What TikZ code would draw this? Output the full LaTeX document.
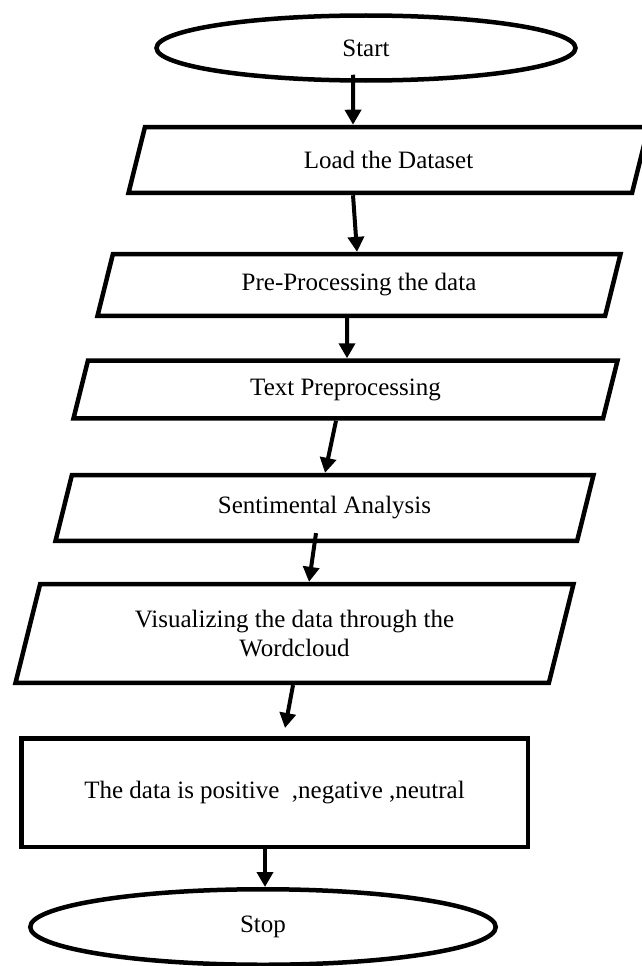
\documentclass[tikz,border=0pt]{standalone}
\usepackage{fontspec}
\setmainfont{Liberation Serif}
\usetikzlibrary{shapes.geometric,arrows.meta}

\begin{document}
\begin{tikzpicture}[x=1pt,y=-1pt,
  term/.style={ellipse,draw,line width=4.5pt},
  io/.style={trapezium,trapezium left angle=76,trapezium right angle=104,
    trapezium stretches body,draw,line width=4.5pt,align=center},
  proc/.style={rectangle,draw,line width=4.5pt},
  flow/.style={line width=4pt,-{Triangle[width=16pt,length=15pt]}},
  font=\fontsize{25}{29}\selectfont]

\useasboundingbox (0,0) rectangle (641,966);

\node [term,minimum width=419pt,minimum height=65pt] (st) at (366,48) {Start};
\node [io,minimum width=520pt,inner ysep=24.2pt] (ld) at (388.5,160) {Load the Dataset};
\node [io,minimum width=523pt,inner ysep=19.5pt] (pp) at (359,285) {Pre-Processing the data};
\node [io,minimum width=544pt,inner ysep=18pt] (tp) at (345.5,389.5) {Text Preprocessing};
\node [io,minimum width=538pt,inner ysep=21.5pt] (sa) at (324.5,508) {Sentimental Analysis};
\node [io,minimum width=558pt,inner ysep=26pt] (vz) at (294.5,633.5)
  {Visualizing the data through the\\Wordcloud};
\node [proc,minimum width=506.5pt,minimum height=108.5pt] (re) at (274.5,792.5)
  {The data is positive\ \ ,negative ,neutral};
\node [term,minimum width=465.5pt,minimum height=75.5pt] (sp) at (263,927) {Stop};

% connectors
\draw [flow] ([xshift=-13pt,yshift=8pt]st.south) -- ([xshift=-35.5pt]ld.north);
\draw [flow] ([xshift=-35.5pt]ld.south) -- ([xshift=-2pt]pp.north);
\draw [flow] ([xshift=-12pt]pp.south) -- ([xshift=1.5pt]tp.north);
\draw [flow] ([xshift=-9.5pt]tp.south) -- ([xshift=0.5pt]sa.north);
\draw [flow] ([xshift=-8.5pt,yshift=10pt]sa.south) -- ([xshift=14.5pt]vz.north);
\draw [flow] ([xshift=-1.5pt]vz.south) -- ([xshift=10.5pt,yshift=8pt]re.north);
\draw [flow] ([xshift=-9.5pt]re.south) -- ([xshift=2pt]sp.north);

\end{tikzpicture}
\end{document}
